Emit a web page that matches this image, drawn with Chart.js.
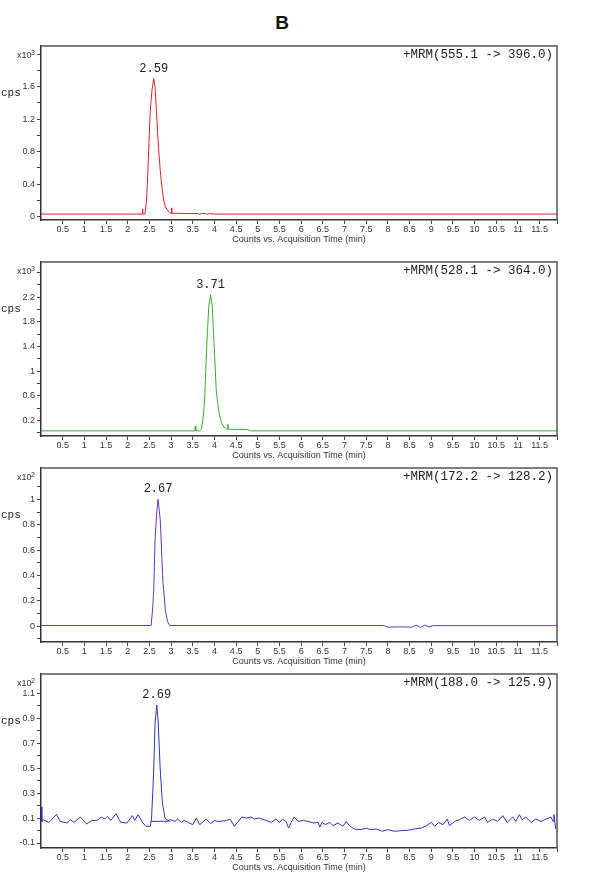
<!DOCTYPE html>
<html>
<head>
<meta charset="utf-8">
<script src="https://cdn.jsdelivr.net/npm/chart.js@4.4.1/dist/chart.umd.min.js"></script>
<style>
  html, body { margin: 0; padding: 0; background: #fff; }
  #wrap { position: relative; width: 614px; height: 883px; background: #fff; }
  #title { position: absolute; left: 0; top: 12px; width: 564px; text-align: center;
           font: bold 19px "Liberation Sans", Arial, sans-serif; line-height: 22px; color: #111; }
  canvas { position: absolute; left: 0; }
</style>
</head>
<body>
<div id="wrap">
  <div id="title">B</div>
  <canvas id="c1" width="614" height="210" style="top:36px"></canvas>
  <canvas id="c2" width="614" height="210" style="top:252px"></canvas>
  <canvas id="c3" width="614" height="210" style="top:458px"></canvas>
  <canvas id="c4" width="614" height="210" style="top:664px"></canvas>
</div>
<script>
// ---------- shared x axis ----------
const xTickValues = [0.5,1,1.5,2,2.5,3,3.5,4,4.5,5,5.5,6,6.5,7,7.5,8,8.5,9,9.5,10,10.5,11,11.5,11.9];
const xTickLabels = ['0.5','1','1.5','2','2.5','3','3.5','4','4.5','5','5.5','6','6.5','7','7.5','8','8.5','9','9.5','10','10.5','11','11.5',''];
const xTitle = 'Counts vs. Acquisition Time (min)';

// ---------- panel 1: +MRM(555.1 -> 396.0), x10^3 ----------
const time1 = [0, 2.30, 2.33, 2.34, 2.35, 2.40, 2.43, 2.46, 2.49, 2.52, 2.56, 2.60, 2.63, 2.66, 2.69, 2.72, 2.75, 2.79, 2.83, 2.87, 2.92, 2.97, 3.01, 3.01, 3.02, 3.40, 3.62, 3.66, 3.70, 3.80, 3.85, 3.88, 3.92, 4.00, 11.9];
const cps1  = [0.033, 0.033, 0.034, 0.095, 0.034, 0.035, 0.18, 0.49, 0.92, 1.31, 1.56, 1.70, 1.60, 1.32, 1.03, 0.78, 0.57, 0.36, 0.20, 0.12, 0.08, 0.05, 0.04, 0.11, 0.043, 0.040, 0.040, 0.028, 0.040, 0.040, 0.028, 0.042, 0.036, 0.033, 0.033];
const yTicks1  = [0,0.2,0.4,0.6,0.8,1.0,1.2,1.4,1.6,1.8,2.0];
const yLabels1 = [0,0.4,0.8,1.2,1.6];

// ---------- panel 2: +MRM(528.1 -> 364.0), x10^3 ----------
const time2 = [0, 3.55, 3.56, 3.57, 3.66, 3.70, 3.74, 3.77, 3.80, 3.83, 3.87, 3.91, 3.95, 3.99, 4.04, 4.08, 4.12, 4.17, 4.22, 4.28, 4.31, 4.31, 4.33, 4.55, 4.77, 4.85, 11.9];
const cps2  = [0.033, 0.033, 0.11, 0.033, 0.033, 0.06, 0.25, 0.49, 1.0, 1.52, 2.06, 2.24, 2.06, 1.47, 0.71, 0.45, 0.28, 0.15, 0.09, 0.065, 0.06, 0.14, 0.058, 0.056, 0.052, 0.033, 0.033];
const yTicks2  = [0,0.2,0.4,0.6,0.8,1.0,1.2,1.4,1.6,1.8,2.0,2.2,2.4,2.6];
const yLabels2 = [0.2,0.6,1,1.4,1.8,2.2];

// ---------- panel 3: +MRM(172.2 -> 128.2), x10^2 ----------
const time3 = [0, 2.54, 2.57, 2.60, 2.63, 2.67, 2.70, 2.75, 2.81, 2.87, 2.92, 2.97, 7.9, 8.0, 8.3, 8.55, 8.65, 8.75, 8.85, 8.95, 9.05, 11.9];
const cps3  = [0.005, 0.005, 0.12, 0.28, 0.68, 0.90, 1.0, 0.84, 0.36, 0.12, 0.035, 0.005, 0.005, -0.008, -0.005, -0.008, 0.008, -0.01, 0.008, -0.006, 0.004, 0.004];
const yTicks3  = [-0.1,0,0.1,0.2,0.3,0.4,0.5,0.6,0.7,0.8,0.9,1.0,1.1];
const yLabels3 = [0,0.2,0.4,0.6,0.8,1];

// ---------- panel 4: +MRM(188.0 -> 125.9), x10^2 ----------
const time4 = [0.00, 0.02, 0.05, 0.18, 0.36, 0.44, 0.61, 0.68, 0.76, 0.91, 1.05, 1.18, 1.29, 1.39, 1.47, 1.53, 1.61, 1.73, 1.84, 1.98,
               2.11, 2.16, 2.24, 2.34, 2.42, 2.52, 2.55, 2.60, 2.63, 2.67, 2.70, 2.75, 2.80, 2.86, 2.93, 2.99, 3.09, 3.15, 3.24, 3.30,
               3.40, 3.50, 3.58, 3.66, 3.81, 3.91, 4.00, 4.08, 4.28, 4.36, 4.46, 4.63, 4.74, 4.84, 4.92, 5.03, 5.19, 5.31, 5.42, 5.50,
               5.57, 5.65, 5.71, 5.77, 5.84, 5.93, 6.05, 6.16, 6.28, 6.39, 6.43, 6.48, 6.56, 6.66, 6.73, 6.85, 6.96, 7.04, 7.11, 7.23,
               7.38, 7.50, 7.61, 7.73, 7.88, 8.00, 8.15, 8.30, 8.46, 8.61, 8.77, 8.89, 9.00, 9.08, 9.17, 9.27, 9.37, 9.42, 9.54, 9.65,
               9.77, 9.88, 10.00, 10.11, 10.23, 10.30, 10.42, 10.53, 10.65, 10.75, 10.88, 10.95, 11.03, 11.10, 11.18, 11.30, 11.41, 11.53, 11.65, 11.76,
               11.81, 11.83, 11.87];
const cps4  = [0.19, 0.07, 0.087, 0.065, 0.13, 0.073, 0.06, 0.087, 0.065, 0.108, 0.052, 0.081, 0.081, 0.108, 0.092, 0.113, 0.081, 0.135, 0.065, 0.06,
               0.119, 0.081, 0.127, 0.065, 0.034, 0.034, 0.10, 0.487, 0.86, 1.006, 0.886, 0.487, 0.22, 0.10, 0.08, 0.087, 0.073, 0.092, 0.065, 0.081,
               0.065, 0.047, 0.10, 0.047, 0.092, 0.055, 0.081, 0.073, 0.079, 0.092, 0.034, 0.108, 0.10, 0.108, 0.092, 0.10, 0.081, 0.065, 0.092, 0.065,
               0.092, 0.073, 0.02, 0.065, 0.108, 0.073, 0.081, 0.073, 0.06, 0.065, 0.028, 0.065, 0.047, 0.065, 0.039, 0.06, 0.034, 0.073, 0.039, 0.012,
               0.007, 0.018, 0.007, 0.012, -0.006, 0.007, -0.006, -0.001, 0.002, 0.012, 0.02, 0.039, 0.065, 0.034, 0.065, 0.047, 0.092, 0.039, 0.073, 0.087,
               0.108, 0.081, 0.108, 0.081, 0.108, 0.065, 0.092, 0.073, 0.119, 0.065, 0.108, 0.073, 0.127, 0.087, 0.108, 0.065, 0.092, 0.073, 0.092, 0.108,
               0.073, 0.127, 0.012];
const baseTime4 = [2.53, 2.98];
const baseCps4  = [0.073, 0.075];
const yTicks4  = [-0.1,0,0.1,0.2,0.3,0.4,0.5,0.6,0.7,0.8,0.9,1.0,1.1];
const yLabels4 = [-0.1,0.1,0.3,0.5,0.7,0.9,1.1];

// ---------- per-panel texts / colours / ranges ----------
const mrmLabels  = ['+MRM(555.1 -> 396.0)', '+MRM(528.1 -> 364.0)', '+MRM(172.2 -> 128.2)', '+MRM(188.0 -> 125.9)'];
const peakLabels = ['2.59', '3.71', '2.67', '2.69'];
const exponents  = ['3', '3', '2', '2'];
const colors     = ['#dc2424', '#3caa3c', '#6a34bc', '#2a36c0'];
const yMins      = [-0.04, -0.05, -0.125, -0.14];
const yMaxs      = [2.1, 2.77, 1.247, 1.254];

const SANS = '"Liberation Sans", Arial, sans-serif';
const MONO = '"Liberation Mono", "Courier New", monospace';

const pts = (t, v) => t.map((x, i) => ({ x: x, y: v[i] }));
const fmt = v => String(Number(v.toFixed(3)));

const annot = {
  id: 'annot',
  afterDatasetsDraw(chart, args, o) {
    const { ctx, chartArea } = chart;
    const { left, top, right, bottom } = chartArea;
    ctx.save();
    // frame (top + right)
    ctx.strokeStyle = '#555';
    ctx.lineWidth = 1.5;
    ctx.beginPath();
    ctx.moveTo(left, top);
    ctx.lineTo(right, top);
    ctx.lineTo(right, bottom);
    ctx.stroke();
    // MRM label
    ctx.fillStyle = '#222';
    ctx.font = '12.5px ' + MONO;
    ctx.textAlign = 'right';
    ctx.textBaseline = 'middle';
    ctx.fillText(o.mrm, right - 4, top + 9);
    // x10^n
    ctx.textAlign = 'left';
    ctx.font = '9px ' + SANS;
    ctx.fillStyle = '#333';
    ctx.fillText('x10', left - 24, top + 10);
    ctx.font = '7px ' + SANS;
    ctx.fillText(o.exp, left - 10, top + 7);
    // cps
    ctx.font = '11px ' + MONO;
    ctx.fillStyle = '#222';
    ctx.fillText('cps', left - 40, top + 47);
    // peak label at the highest point of the trace
    const meta = chart.getDatasetMeta(0);
    const data = chart.data.datasets[0].data;
    let idx = 0;
    data.forEach((p, i) => { if (p.y > data[idx].y) idx = i; });
    const el = meta.data[idx];
    ctx.font = '12px ' + MONO;
    ctx.textAlign = 'center';
    ctx.textBaseline = 'bottom';
    ctx.fillText(o.peak, el.x, el.y - 4);
    ctx.restore();
  }
};

function makeChart(id, k, datasets, yTicks, yLabels) {
  return new Chart(document.getElementById(id), {
    type: 'line',
    data: { datasets: datasets },
    options: {
      responsive: false,
      animation: false,
      devicePixelRatio: 1,
      layout: { padding: { top: 10, right: 57, left: 0, bottom: 0 } },
      elements: { point: { radius: 0 }, line: { borderWidth: 1, tension: 0 } },
      plugins: {
        legend: { display: false },
        tooltip: { enabled: false },
        annot: { mrm: mrmLabels[k], peak: peakLabels[k], exp: exponents[k] }
      },
      scales: {
        x: {
          type: 'linear',
          min: 0,
          max: 11.9,
          afterFit: s => { s.height = 26; },
          afterBuildTicks: s => { s.ticks = xTickValues.map(v => ({ value: v })); },
          border: { display: true, color: '#333', width: 1.5 },
          grid: { drawOnChartArea: false, drawTicks: true, tickLength: 4, color: '#444', lineWidth: 1 },
          ticks: {
            autoSkip: false, maxRotation: 0, padding: 0,
            color: '#333', font: { family: SANS, size: 9 },
            callback: v => { const i = xTickValues.findIndex(t => Math.abs(t - v) < 1e-6); return i >= 0 ? xTickLabels[i] : ''; }
          },
          title: { display: true, text: xTitle, color: '#333', font: { family: SANS, size: 9 }, padding: { top: 0, bottom: 1 } }
        },
        y: {
          type: 'linear',
          min: yMins[k],
          max: yMaxs[k],
          afterFit: s => { s.width = 41; },
          afterBuildTicks: s => { s.ticks = yTicks.map(v => ({ value: v })); },
          border: { display: true, color: '#333', width: 1.5 },
          grid: { drawOnChartArea: false, drawTicks: true, tickLength: 4, color: '#444', lineWidth: 1 },
          ticks: {
            autoSkip: false, padding: 2,
            color: '#333', font: { family: SANS, size: 9 },
            callback: v => yLabels.some(l => Math.abs(l - v) < 1e-6) ? fmt(v) : ''
          }
        }
      }
    },
    plugins: [annot]
  });
}

const ds = (t, v, c) => ({ data: pts(t, v), borderColor: c, borderWidth: 1, pointRadius: 0, fill: false });

makeChart('c1', 0, [ds(time1, cps1, colors[0])], yTicks1, yLabels1);
makeChart('c2', 1, [ds(time2, cps2, colors[1])], yTicks2, yLabels2);
makeChart('c3', 2, [ds(time3, cps3, colors[2])], yTicks3, yLabels3);
makeChart('c4', 3, [ds(time4, cps4, colors[3]), ds(baseTime4, baseCps4, colors[3])], yTicks4, yLabels4);
</script>
</body>
</html>
